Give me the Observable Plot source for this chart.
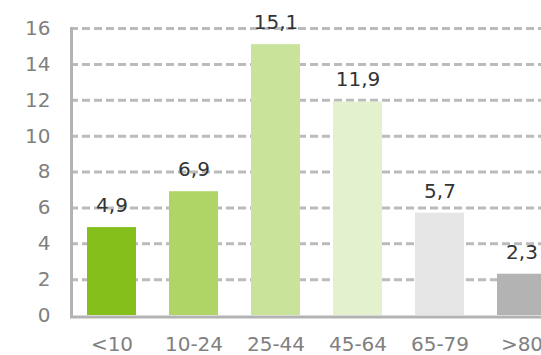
<!DOCTYPE html>
<html>
<head>
<meta charset="utf-8">
<script src="https://cdn.jsdelivr.net/npm/d3@7"></script>
<script src="https://cdn.jsdelivr.net/npm/@observablehq/plot@0.6"></script>
<style>
  html, body { margin: 0; padding: 0; background: #fff; overflow: hidden; }
  #chart { width: 541px; height: 355px; overflow: hidden; }
  #chart svg { display: block; max-width: none !important; }
</style>
</head>
<body>
<div id="chart"></div>
<script>
// Age groups and their shares
const ageGroups = ["<10", "10-24", "25-44", "45-64", "65-79", ">80"];
const shares = [4.9, 6.9, 15.1, 11.9, 5.7, 2.3];
const barColors = ["#85bf1c", "#aed566", "#cae39a", "#e3f1ce", "#e6e6e6", "#b3b3b3"];
const yTicks = [0, 2, 4, 6, 8, 10, 12, 14, 16];

const rows = ageGroups.map((group, i) => ({group, share: shares[i], color: barColors[i]}));
const fmt = v => d3.format(".1f")(v).replace(".", ",");

const chart = Plot.plot({
  width: 563,
  height: 355,
  marginLeft: 70,
  marginRight: 0,
  marginTop: 28,
  marginBottom: 40,
  style: {fontFamily: "'DejaVu Sans', Verdana, sans-serif", background: "#fff", maxWidth: "none"},
  x: {domain: ageGroups, paddingInner: 0.404, paddingOuter: 0.202, label: null},
  y: {domain: [0, 16], label: null},
  marks: [
    Plot.gridY(yTicks.filter(d => d > 0), {
      stroke: "#bbbbbb", strokeOpacity: 1, strokeWidth: 3, strokeDasharray: "8,4"
    }),
    Plot.barY(rows, {x: "group", y: "share", fill: "color"}),
    Plot.ruleY([0], {stroke: "#b3b3b3", strokeWidth: 3, dy: 1.5}),
    Plot.frame({anchor: "left", stroke: "#b3b3b3", strokeWidth: 3, dx: 1}),
    Plot.text(rows, {
      x: "group", y: "share", text: d => fmt(d.share),
      dy: -22, fontSize: 20, fill: "#333333"
    }),
    Plot.axisY(yTicks, {
      tickSize: 0, tickPadding: 20, fontSize: 20, color: "#808080", label: null
    }),
    Plot.axisX({
      tickSize: 0, tickPadding: 21, fontSize: 20, color: "#808080", label: null
    })
  ]
});

document.getElementById("chart").appendChild(chart);
</script>
</body>
</html>
